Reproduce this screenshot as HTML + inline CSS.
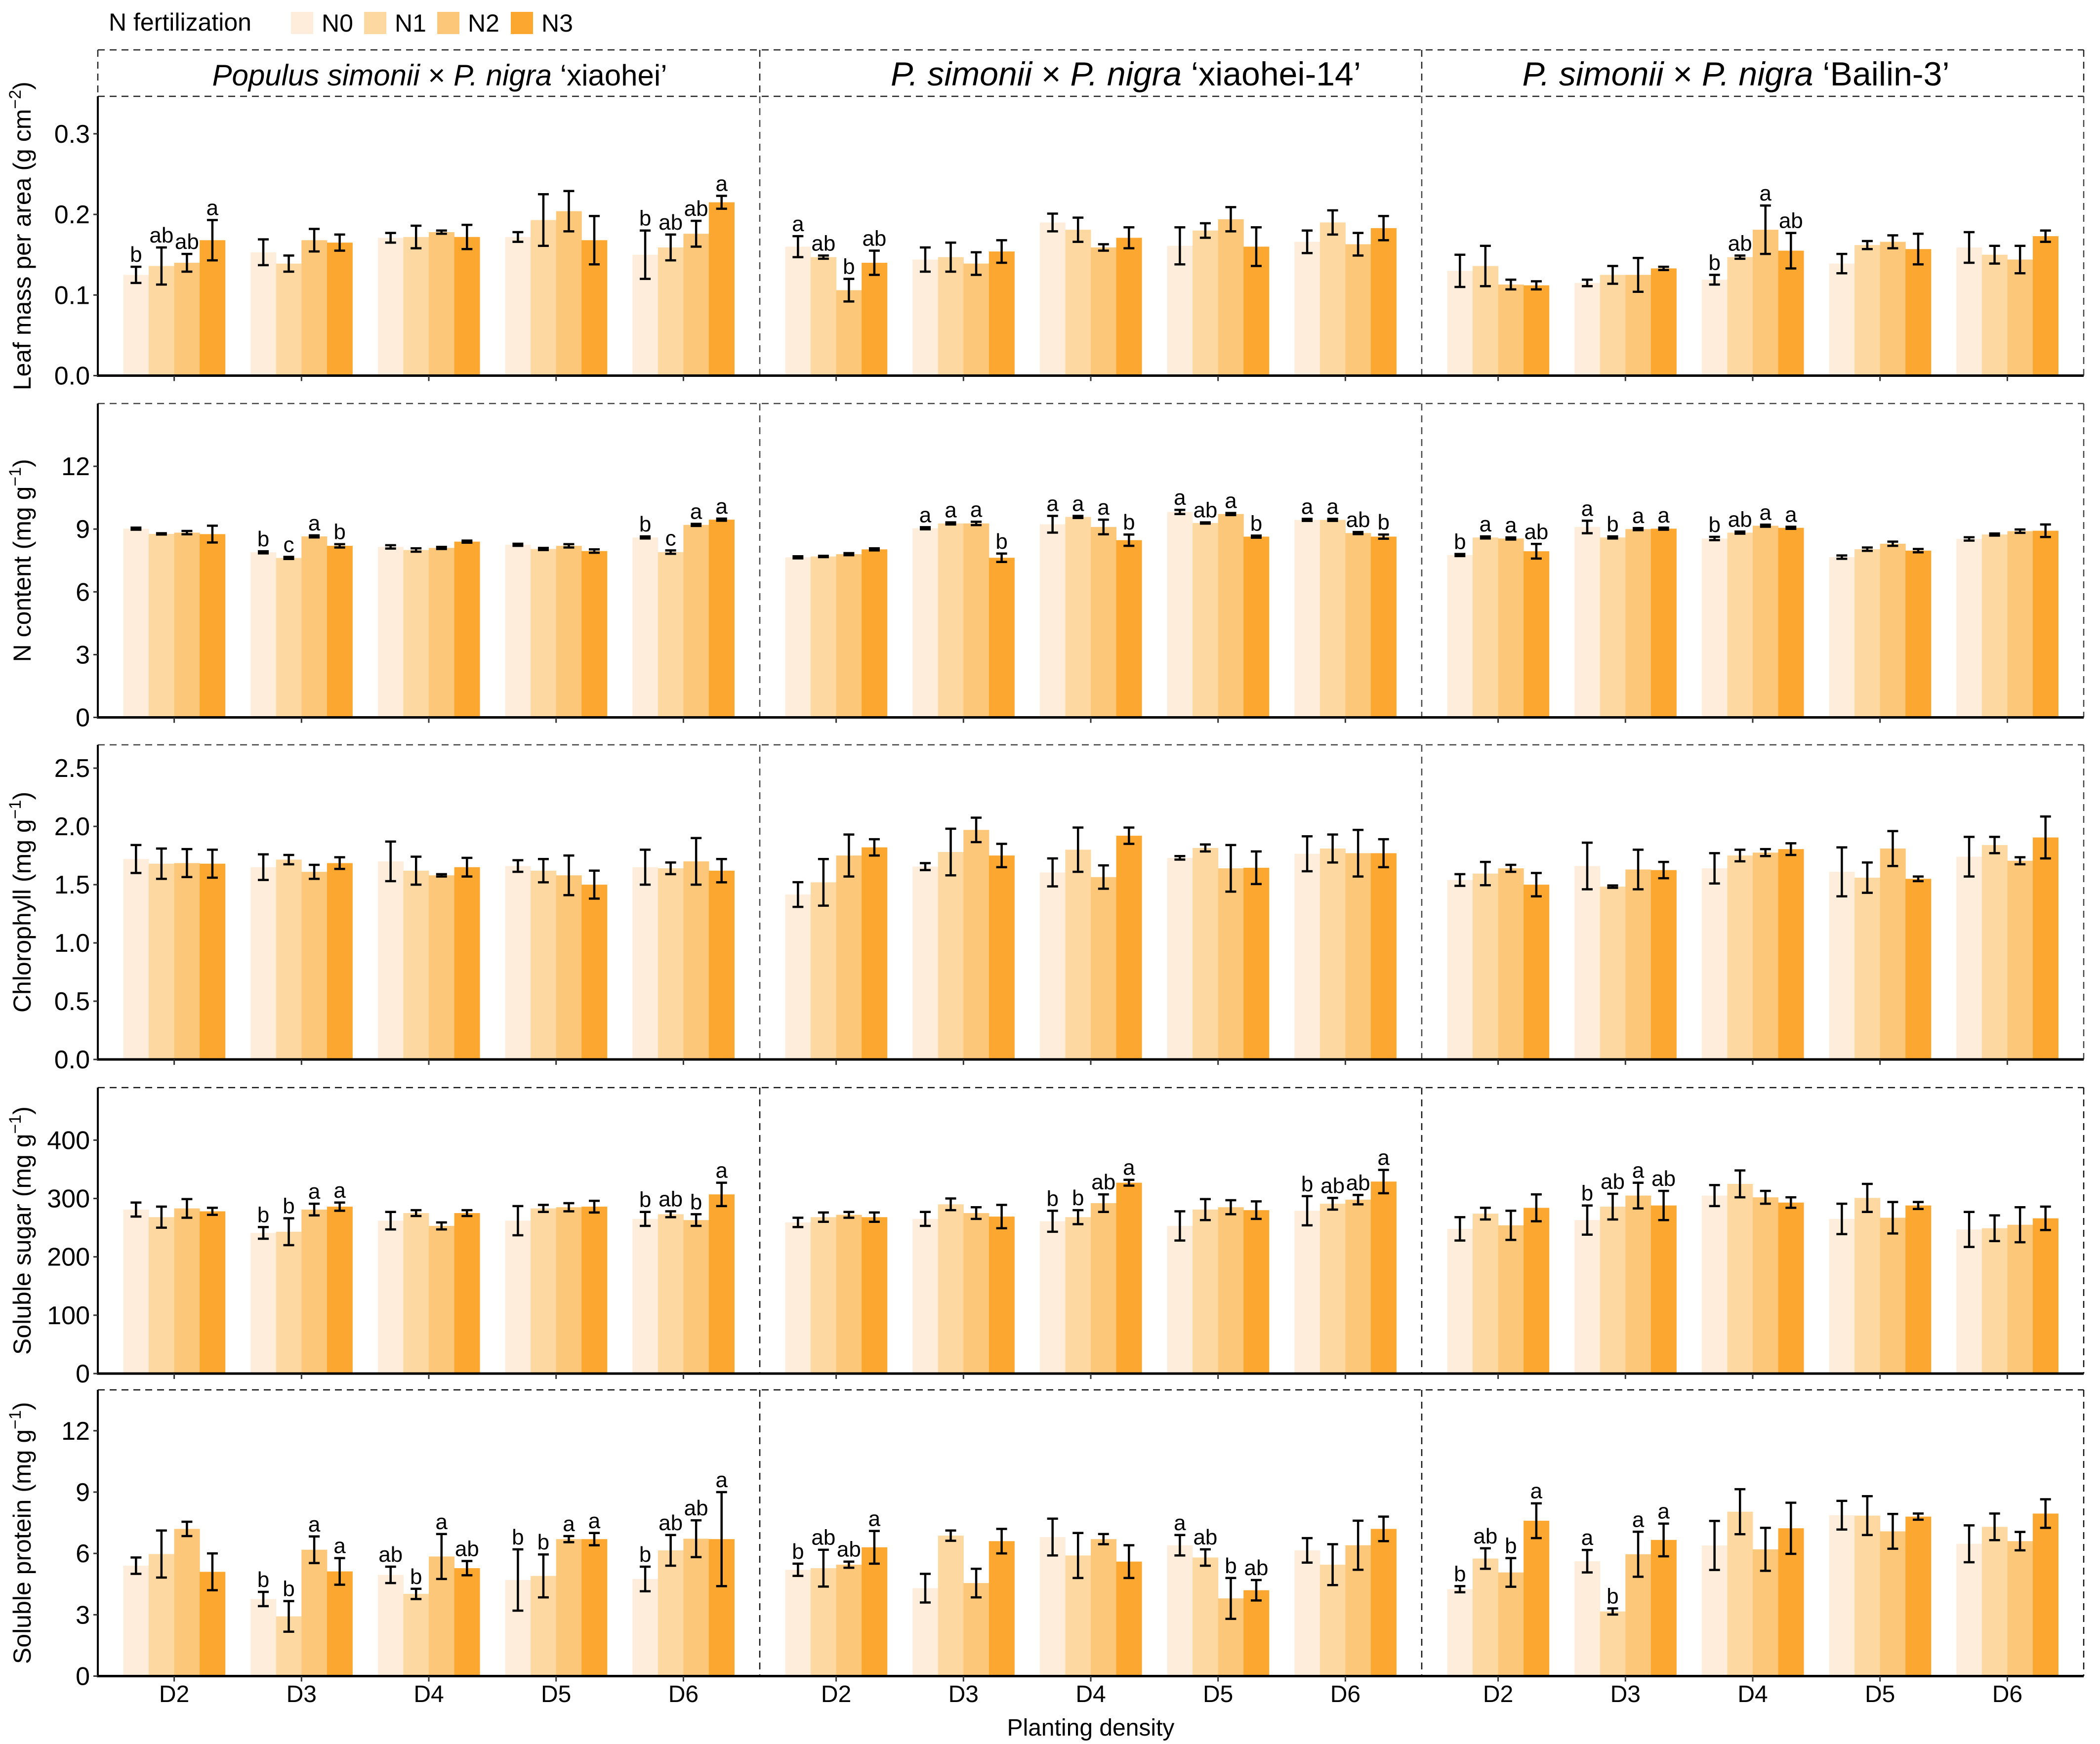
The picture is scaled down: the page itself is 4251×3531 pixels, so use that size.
<!DOCTYPE html>
<html><head><meta charset="utf-8"><style>
html,body{margin:0;padding:0;background:#fff;}
svg{display:block;font-family:"Liberation Sans",Arial,sans-serif;}
</style></head><body>
<svg id="chart" width="4251" height="3531" viewBox="0 0 4251 3531" xmlns="http://www.w3.org/2000/svg"></svg>
<script>
// ---- data (order: panel[xiaohei, xiaohei-14, Bailin-3] x density[D2..D6] x N[N0..N3]) ----
const categories = ["D2","D3","D4","D5","D6"];
const seriesNames = ["N0","N1","N2","N3"];
const panelNames = ["xiaohei","xiaohei-14","Bailin-3"];

const lmaMean = [0.125,0.136,0.140,0.168, 0.153,0.139,0.168,0.165, 0.171,0.172,0.178,0.172, 0.172,0.193,0.204,0.168, 0.150,0.159,0.176,0.215,
 0.160,0.147,0.106,0.140, 0.144,0.147,0.139,0.154, 0.190,0.181,0.159,0.171, 0.161,0.180,0.194,0.160, 0.166,0.190,0.163,0.183,
 0.130,0.136,0.113,0.112, 0.115,0.125,0.125,0.133, 0.119,0.147,0.181,0.155, 0.139,0.162,0.166,0.157, 0.159,0.150,0.144,0.173];
const lmaErr = [0.010,0.023,0.011,0.025, 0.016,0.010,0.014,0.010, 0.006,0.014,0.002,0.015, 0.006,0.032,0.025,0.030, 0.030,0.016,0.016,0.008,
 0.013,0.002,0.014,0.015, 0.015,0.018,0.014,0.014, 0.011,0.015,0.004,0.013, 0.023,0.009,0.015,0.024, 0.014,0.015,0.014,0.015,
 0.020,0.025,0.006,0.005, 0.004,0.011,0.021,0.002, 0.006,0.002,0.030,0.022, 0.012,0.005,0.008,0.019, 0.019,0.011,0.017,0.007];
const lmaSig = ["b","ab","ab","a", "","","","", "","","","", "","","","", "b","ab","ab","a",
 "a","ab","b","ab", "","","","", "","","","", "","","","", "","","","",
 "","","","", "","","","", "b","ab","a","ab", "","","","", "","","",""];

const nMean = [9.02,8.77,8.83,8.76, 7.89,7.62,8.65,8.20, 8.15,8.00,8.10,8.40, 8.25,8.05,8.20,7.95, 8.60,7.90,9.20,9.45,
 7.65,7.69,7.80,8.03, 9.04,9.27,9.27,7.63, 9.23,9.58,9.10,8.47, 9.82,9.29,9.72,8.64, 9.44,9.44,8.81,8.64,
 7.76,8.60,8.55,7.94, 9.10,8.60,9.00,9.02, 8.55,8.83,9.16,9.06, 7.66,8.04,8.30,7.97, 8.53,8.74,8.90,8.92];
const nErr = [0.05,0.03,0.08,0.40, 0.05,0.05,0.05,0.08, 0.08,0.08,0.05,0.05, 0.05,0.05,0.08,0.08, 0.05,0.08,0.05,0.05,
 0.05,0.03,0.05,0.05, 0.05,0.05,0.08,0.20, 0.40,0.05,0.35,0.27, 0.10,0.03,0.05,0.05, 0.05,0.05,0.05,0.10,
 0.05,0.05,0.05,0.35, 0.30,0.05,0.05,0.05, 0.08,0.05,0.05,0.05, 0.08,0.08,0.10,0.08, 0.08,0.05,0.08,0.30];
const nSig = ["","","","", "b","c","a","b", "","","","", "","","","", "b","c","a","a",
 "","","","", "a","a","a","b", "a","a","a","b", "a","ab","a","b", "a","a","ab","b",
 "b","a","a","ab", "a","b","a","a", "b","ab","a","a", "","","","", "","","",""];

const chlMean = [1.72,1.68,1.685,1.68, 1.65,1.715,1.61,1.685, 1.70,1.62,1.58,1.65, 1.66,1.62,1.58,1.50, 1.65,1.64,1.70,1.62,
 1.415,1.52,1.75,1.82, 1.655,1.78,1.97,1.75, 1.605,1.80,1.565,1.92, 1.73,1.815,1.64,1.645, 1.765,1.81,1.77,1.77,
 1.54,1.595,1.64,1.50, 1.66,1.483,1.63,1.625, 1.64,1.75,1.775,1.805, 1.61,1.56,1.81,1.55, 1.74,1.84,1.705,1.905];
const chlErr = [0.12,0.13,0.12,0.12, 0.11,0.04,0.06,0.05, 0.17,0.12,0.01,0.08, 0.05,0.10,0.17,0.12, 0.15,0.05,0.20,0.10,
 0.106,0.20,0.18,0.07, 0.03,0.20,0.105,0.10, 0.12,0.19,0.10,0.07, 0.015,0.03,0.20,0.14, 0.15,0.12,0.20,0.12,
 0.05,0.10,0.03,0.10, 0.20,0.01,0.17,0.07, 0.13,0.05,0.03,0.05, 0.21,0.13,0.15,0.02, 0.17,0.07,0.03,0.18];

const sugMean = [281,268,283,278, 241,243,281,286, 262,275,253,275, 262,283,285,286, 265,273,263,307,
 259,268,272,268, 265,290,275,269, 261,268,292,327, 253,281,285,280, 279,291,298,329,
 248,274,254,284, 263,286,305,288, 305,325,302,293, 265,301,267,288, 247,249,255,266];
const sugErr = [12,18,16,6, 10,23,10,7, 15,5,6,5, 25,6,7,10, 12,5,10,20,
 8,8,5,8, 12,10,10,20, 18,12,15,5, 25,18,12,15, 25,10,8,20,
 20,10,25,23, 25,22,22,25, 18,23,11,9, 26,24,27,6, 30,22,30,20];
const sugSig = ["","","","", "b","b","a","a", "","","","", "","","","", "b","ab","b","a",
 "","","","", "","","","", "b","b","ab","a", "","","","", "b","ab","ab","a",
 "","","","", "b","ab","a","ab", "","","","", "","","","", "","","",""];

const proMean = [5.4,5.97,7.2,5.1, 3.77,2.92,6.18,5.12, 4.95,4.02,5.85,5.28, 4.7,4.9,6.7,6.7, 4.75,6.15,6.72,6.7,
 5.2,5.28,5.45,6.3, 4.3,6.87,4.55,6.6, 6.8,5.9,6.7,5.6, 6.4,5.8,3.8,4.2, 6.15,5.45,6.4,7.2,
 4.25,5.75,5.07,7.6, 5.62,3.16,5.96,6.66, 6.39,8.04,6.2,7.23, 7.87,7.85,7.08,7.8, 6.47,7.3,6.6,7.95];
const proErr = [0.4,1.15,0.35,0.9, 0.35,0.75,0.65,0.65, 0.4,0.25,1.1,0.35, 1.5,1.05,0.15,0.3, 0.6,0.75,0.9,2.3,
 0.3,0.9,0.15,0.8, 0.7,0.25,0.7,0.6, 0.9,1.1,0.25,0.8, 0.5,0.4,1.0,0.5, 0.6,1.0,1.2,0.6,
 0.15,0.5,0.7,0.85, 0.55,0.15,1.1,0.8, 1.2,1.1,1.05,1.25, 0.7,0.95,0.85,0.15, 0.9,0.65,0.45,0.7];
const proSig = ["","","","", "b","b","a","a", "ab","b","a","ab", "b","b","a","a", "b","ab","ab","a",
 "b","ab","ab","a", "","","","", "","","","", "a","ab","b","ab", "","","","",
 "b","ab","b","a", "a","b","a","a", "","","","", "","","","", "","","",""];

const lmaTicks = ["0.0","0.1","0.2","0.3"];
const nTicks = ["0","3","6","9","12"];
const chlTicks = ["0.0","0.5","1.0","1.5","2.0","2.5"];
const sugTicks = ["0","100","200","300","400"];
const proTicks = ["0","3","6","9","12"];

// ---- layout ----
const NS = "http://www.w3.org/2000/svg";
const svg = document.getElementById("chart");
const colors = ["#FEEDDB","#FDD8A0","#FDC77A","#FCA730"];
const PANEL_LEFT = 198, PANEL_W = 1340;
const DASH = "14 10";
const rows = [
  {top:195, bottom:760.5, max:0.3465, mean:lmaMean, err:lmaErr, sig:lmaSig, ticks:lmaTicks, title:["Leaf mass per area (g cm","−2",")"], name:"lma"},
  {top:817, bottom:1452.5, max:15, mean:nMean, err:nErr, sig:nSig, ticks:nTicks, title:["N content (mg g","−1",")"], name:"n-content"},
  {top:1508, bottom:2145, max:2.70, mean:chlMean, err:chlErr, sig:null, ticks:chlTicks, title:["Chlorophyll (mg g","−1",")"], name:"chlorophyll"},
  {top:2202, bottom:2781, max:490, mean:sugMean, err:sugErr, sig:sugSig, ticks:sugTicks, title:["Soluble sugar (mg g","−1",")"], name:"soluble-sugar"},
  {top:2814, bottom:3393.5, max:14, mean:proMean, err:proErr, sig:proSig, ticks:proTicks, title:["Soluble protein (mg g","−1",")"], name:"soluble-protein"}
];

function el(tag, attrs, parent){
  const e = document.createElementNS(NS, tag);
  for (const k in attrs) e.setAttribute(k, attrs[k]);
  (parent||svg).appendChild(e);
  return e;
}
function xBand(panel, ci){
  const step = PANEL_W/5.2;
  return PANEL_LEFT + panel*PANEL_W + step*(0.6+ci);
}
function yScale(row, v){ return row.bottom - (v/row.max)*(row.bottom-row.top); }

// legend
const lg = el("g", {});


const lt = el("text", {x:220, y:62, "font-size":50, fill:"#000"}, lg);
lt.textContent = "N fertilization";


const keyX = [589, 737, 885, 1034];
seriesNames.forEach((s,i)=>{
  const r = el("rect", {x:keyX[i], y:24, width:45, height:45, fill:colors[i]}, lg);
  
  
  const t = el("text", {x:keyX[i]+62, y:64, "font-size":50, fill:"#000"}, lg);
  t.textContent = s;
  
  
});

// strips
const stripCenters = [890, 2279, 3514];
const stripSizes = [60, 68, 68];
const stripItal = [["Populus simonii"," × ","P. nigra"," ‘xiaohei’"],["P. simonii"," × ","P. nigra"," ‘xiaohei-14’"],["P. simonii"," × ","P. nigra"," ‘Bailin-3’"]];
const sg = el("g", {stroke:"#222", "stroke-width":2.5, "stroke-dasharray":DASH, fill:"none"});


el("line", {x1:PANEL_LEFT, y1:101, x2:PANEL_LEFT+3*PANEL_W, y2:101}, sg);
el("line", {x1:PANEL_LEFT, y1:195, x2:PANEL_LEFT+3*PANEL_W, y2:195}, sg);
for (let p=0;p<=3;p++){
  el("line", {x1:PANEL_LEFT+p*PANEL_W, y1:101, x2:PANEL_LEFT+p*PANEL_W, y2:195}, sg);
}
for (let p=0;p<3;p++){
  const st = el("text", {x:stripCenters[p], y:173, "font-size":stripSizes[p], "text-anchor":"middle", fill:"#000"});
  
  
  stripItal[p].forEach((part,k)=>{
    const ts = el("tspan", {"font-style": (k===0||k===2)?"italic":"normal"}, st);
    ts.textContent = part;
  });
}

// rows
rows.forEach((row, ri)=>{
  const g = el("g", {});
  
  
  // panel borders (dashed), drawn as single lines to avoid overlap
  const bg = el("g", {stroke: ri>=3 ? "#111" : "#444", "stroke-width":2.5, "stroke-dasharray":DASH, fill:"none"}, g);
  
  
  if (ri>0) el("line", {x1:PANEL_LEFT, y1:row.top, x2:PANEL_LEFT+3*PANEL_W, y2:row.top}, bg);
  for (let p=1;p<=3;p++){
    el("line", {x1:PANEL_LEFT+p*PANEL_W, y1:row.top, x2:PANEL_LEFT+p*PANEL_W, y2:row.bottom}, bg);
  }
  // bars
  for (let p=0;p<3;p++){
    for (let c=0;c<5;c++){
      for (let s=0;s<4;s++){
        const idx = p*20 + c*4 + s;
        const v = row.mean[idx], e = row.err[idx];
        const bw = PANEL_W/5.2*0.8/4;
        const cx = xBand(p,c) - 2*bw + bw*s + bw/2;
        const y = yScale(row, v);
        const bar = el("rect", {x:cx-bw/2, y:y, width:bw+0.5, height:row.bottom-y, fill:colors[s]}, g);
        
        
        const yt = yScale(row, v+e), yb = yScale(row, v-e);
        const eb = el("path", {d:`M${cx-11},${yt}H${cx+11}M${cx},${yt}V${yb}M${cx-11},${yb}H${cx+11}`, stroke:"#000", "stroke-width":4.5, fill:"none"}, g);
        
        
        if (row.sig && row.sig[idx]){
          const lab = el("text", {x:cx, y:yt-10, "font-size":44, "text-anchor":"middle", fill:"#000"}, g);
          lab.textContent = row.sig[idx];
          
          
        }
      }
    }
  }
  // axes
  const ya = el("line", {x1:PANEL_LEFT, y1:row.top, x2:PANEL_LEFT, y2:row.bottom+2, stroke:"#000", "stroke-width":4}, g);
  
  
  const xa = el("line", {x1:PANEL_LEFT-2, y1:row.bottom, x2:PANEL_LEFT+3*PANEL_W, y2:row.bottom, stroke:"#000", "stroke-width":5}, g);
  
  
  const step = (row.bottom-row.top)/row.max;
  row.ticks.forEach(t=>{
    const y = row.bottom - parseFloat(t)*step;
    el("line", {x1:PANEL_LEFT-9, y1:y, x2:PANEL_LEFT, y2:y, stroke:"#333", "stroke-width":3}, g);
    const tl = el("text", {x:182, y:y+18, "font-size":52, "text-anchor":"end", fill:"#000"}, g);
    tl.textContent = t;
    
    
  });
  for (let p=0;p<3;p++) for (let c=0;c<5;c++){
    const x = xBand(p,c);
    el("line", {x1:x, y1:row.bottom, x2:x, y2:row.bottom+11, stroke:"#333", "stroke-width":3}, g);
    if (ri===4){
      const xl = el("text", {x:x, y:3446, "font-size":48, "text-anchor":"middle", fill:"#000"}, g);
      xl.textContent = categories[c];
      
      
    }
  }
  const cy = (row.top+row.bottom)/2;
  const yt = el("text", {x:0, y:0, "font-size":50, "text-anchor":"middle", fill:"#000", transform:`translate(62,${cy}) rotate(-90)`}, g);
  
  
  const t1 = el("tspan", {}, yt); t1.textContent = row.title[0];
  const t2 = el("tspan", {"font-size":34, dy:-20}, yt); t2.textContent = row.title[1];
  const t3 = el("tspan", {dy:20}, yt); t3.textContent = row.title[2];
});

const xt = el("text", {x:2208, y:3514, "font-size":48, "text-anchor":"middle", fill:"#000"});
xt.textContent = "Planting density";


</script>
</body></html>
